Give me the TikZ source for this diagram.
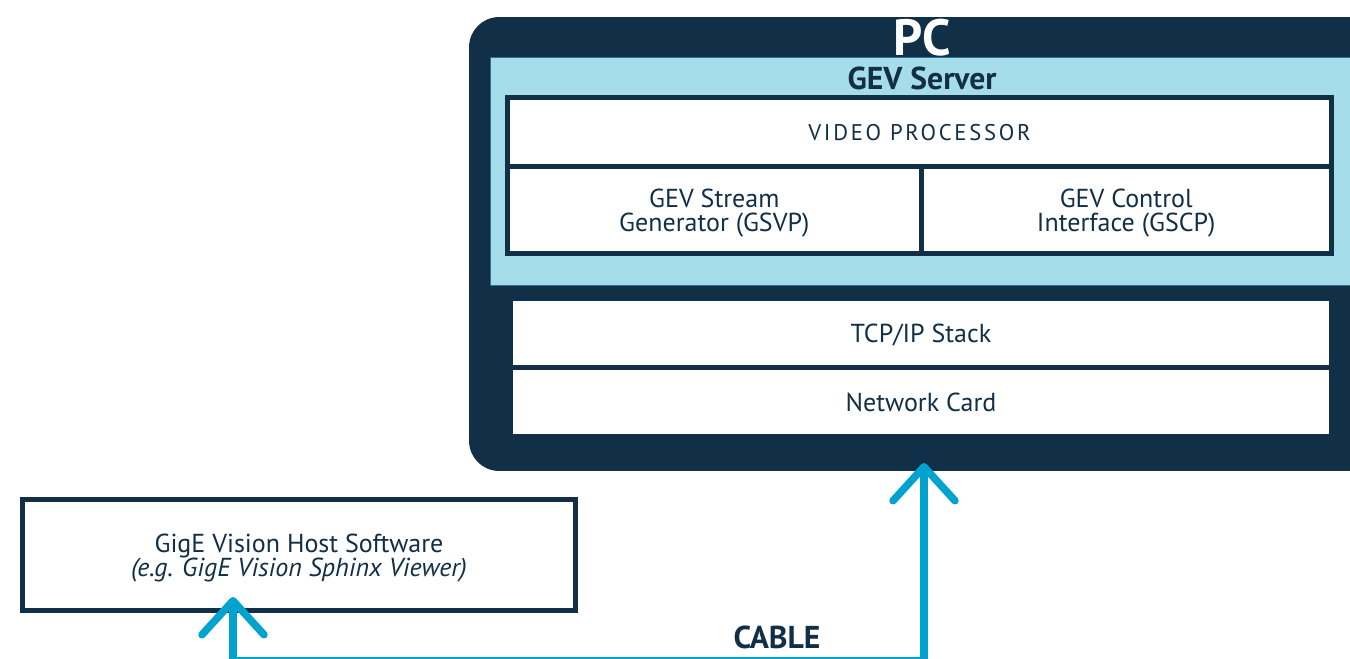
\documentclass[tikz,border=0pt]{standalone}
\usepackage{fontspec}
\setmainfont{PT Sans}
\usetikzlibrary{arrows.meta,positioning}
\definecolor{pcnavy}{HTML}{112F47}
\definecolor{gevblue}{HTML}{A6DDEA}
\definecolor{gevedge}{HTML}{2A7393}
\definecolor{cablecyan}{HTML}{00A3D0}
\newcommand{\bodyfont}{\fontsize{14.8}{13.8}\selectfont}
\newcommand{\headfont}{\fontsize{18}{20}\selectfont\bfseries}
\newcommand{\pcfont}{\fontsize{29}{30}\selectfont\bfseries}
\newcommand{\capsfont}{\fontsize{12.9}{14}\selectfont\addfontfeature{LetterSpace=12}}
\tikzset{>={Straight Barb[length=0.68cm,width=1.24cm,round]}}
\tikzset{
  pcbox/.style={fill=pcnavy,rounded corners=0.6cm,minimum width=18.22cm,minimum height=9.08cm,inner sep=0pt},
  serverbox/.style={fill=gevblue,draw=gevedge,line width=0.02cm,minimum width=17.8cm,minimum height=4.58cm,inner sep=0pt},
  layer/.style={draw=pcnavy,line width=0.1cm,fill=white,text=pcnavy,font=\bodyfont,align=center,text depth=0pt,inner sep=0pt,outer sep=0pt},
  stackbox/.style={fill=white,text=pcnavy,font=\bodyfont,text depth=0pt,inner sep=0pt,outer sep=0pt,minimum width=16.32cm,minimum height=1.28cm},
  cable/.style={cablecyan,line width=0.15cm}
}

\begin{document}
\begin{tikzpicture}[x=0.02cm,y=-0.02cm]
  \clip (0,0) rectangle (1350,659);
  % PC case
  \node[pcbox] (pc) at (924.5,244) {};
  \node[font=\pcfont,text=white] (pclabel) at (922,38) {PC};
  % GEV server
  \node[serverbox] (server) at (935,171.5) {};
  \node[font=\headfont,text=pcnavy] (serverlabel) at (922,78) {GEV Server};
  \node[layer,minimum width=16.48cm,minimum height=1.37cm,font=\capsfont] (vproc) at (919.5,132) {VIDEO PROCESSOR};
  \node[layer,anchor=north west,minimum width=8.27cm,minimum height=1.75cm] (stream) at (vproc.south west) {GEV Stream\\Generator (GSVP)};
  \node[layer,anchor=north east,minimum width=8.21cm,minimum height=1.75cm] (control) at (vproc.south east) {GEV Control\\Interface (GSCP)};
  % network layers
  \node[stackbox] (tcpip) at (921,333) {TCP/IP Stack};
  \node[stackbox,below=0.1cm of tcpip] (netcard) {Network Card};
  % host side
  \node[layer,minimum width=11.06cm,minimum height=2.22cm] (host) at (299,555) {GigE Vision Host Software\\\textit{(e.g. GigE Vision Sphinx Viewer)}};
  % cable
  \coordinate (hostport) at (233,597);
  \coordinate (pcport) at (924,463);
  \coordinate (bend) at (924,661);
  \draw[cable,<->] (hostport) |- (bend) -- (pcport);
  \node[font=\headfont,text=pcnavy] (cablelabel) at (777,637) {CABLE};
\end{tikzpicture}
\end{document}
